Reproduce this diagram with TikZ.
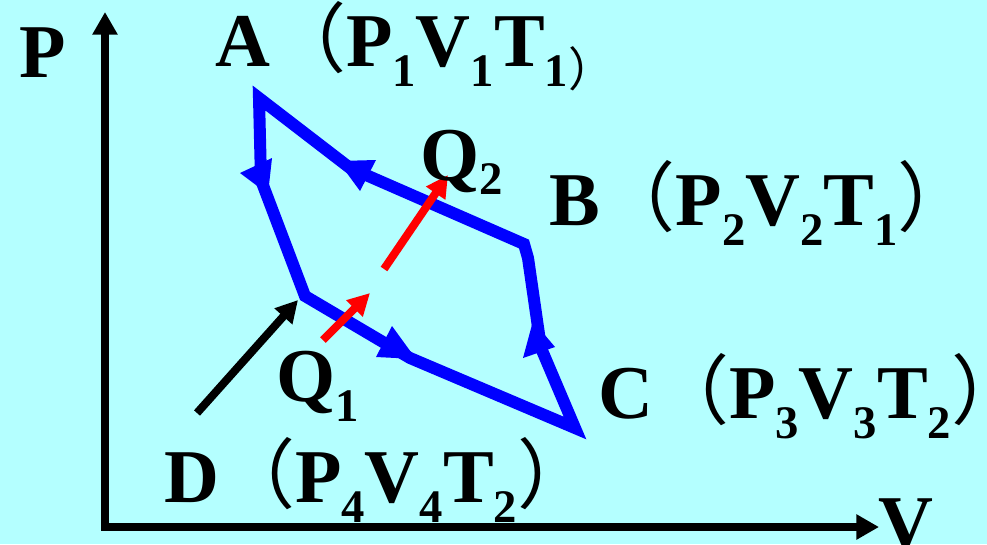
\documentclass[tikz,border=0pt]{standalone}
\usepackage{fontspec}
\setmainfont{Liberation Serif}
\newfontfamily\cjk{Noto Sans CJK SC}
\usetikzlibrary{arrows.meta}
\definecolor{bgcyan}{RGB}{180,255,255}
\newcommand{\subn}[1]{\raisebox{-15pt}{\fontsize{35pt}{35pt}\selectfont #1}}
\newcommand{\lpar}{{\cjk\mdseries （}}
\newcommand{\rpar}{{\cjk\mdseries ）}}
\newcommand{\rparsmall}{\raisebox{-15pt}{\fontsize{35pt}{35pt}\selectfont\cjk\mdseries ）}}
\tikzset{
  lbl/.style={anchor=base west, inner sep=0pt, font=\fontsize{57pt}{62pt}\selectfont\bfseries},
  cyclepath/.style={draw=blue, line width=9pt, line join=miter},
  headfill/.style={fill=blue},
  heatarrow/.style={draw=red, line width=6pt, -{Triangle[length=16.5pt,width=16.5pt]}},
  blackarrow/.style={draw=black, line width=6pt, -{Triangle[length=16.5pt,width=17pt]}},
  axisline/.style={draw=black, line width=6.5pt, line join=miter,
    {Triangle[length=17pt,width=18pt]}-{Triangle[length=17pt,width=18pt]}}
}
\begin{document}
\begin{tikzpicture}[x=0.75pt,y=-0.75pt]
\fill[bgcyan] (0,0) rectangle (987,544);
\useasboundingbox (0,0) rectangle (987,544);

% axes
\coordinate (ytip) at (105,12);
\coordinate (O) at (105,527);
\coordinate (xtip) at (879,527);
\draw[axisline] (ytip) -- (O) -- (xtip);

% cycle corners and bends
\coordinate (A) at (259,98);
\coordinate (J1) at (261,180);
\coordinate (D) at (305,296);
\coordinate (J2) at (410,358);
\coordinate (C) at (575,428);
\coordinate (J3) at (541,348);
\coordinate (B2) at (528,258);
\coordinate (B) at (524,244);
\coordinate (J4) at (350,168);

\draw[cyclepath] (A) -- (J1) .. controls (280,230) .. (D) -- (J2) -- (C) -- (J3) -- (B2) -- (B) -- (J4) -- cycle;

% direction heads
\fill[headfill] (240,173) -- (272,158) -- (268,194) -- cycle;
\fill[headfill] (338,161) -- (376,160) -- (360,191) -- cycle;
\fill[headfill] (392,326) -- (376,357) -- (416,359) -- cycle;
\fill[headfill] (533,321) -- (523,358) -- (555,347) -- cycle;

% heat arrows
\coordinate (r1s) at (323,340);
\coordinate (r1e) at (370,293);
\coordinate (r2s) at (384,269);
\coordinate (r2e) at (448,175);
\draw[heatarrow] (r1s) -- (r1e);
\draw[heatarrow] (r2s) -- (r2e);
\coordinate (ks) at (197,413);
\coordinate (ke) at (298,300);
\draw[blackarrow] (ks) -- (ke);

% labels
\node[lbl] (labP) at (19,77) {P};
\node[lbl] (labV) at (878,548) {V};
\node[lbl] (labA) at (215,66) {A\lpar P\subn{1}V\subn{1}T\subn{1}\rparsmall};
\node[lbl] (labB) at (549,225) {B\lpar P\subn{2}V\subn{2}T\subn{1}\rpar};
\node[lbl] (labC) at (598,418) {C\lpar P\subn{3}V\subn{3}T\subn{2}\rpar};
\node[lbl] (labD) at (164,502) {D\lpar P\subn{4}V\subn{4}T\subn{2}\rpar};
\node[lbl] (labQ2) at (420,180) {Q\raisebox{-11pt}{\fontsize{35pt}{35pt}\selectfont 2}};
\node[lbl] (labQ1) at (276,401) {Q\subn{1}};
\end{tikzpicture}
\end{document}
